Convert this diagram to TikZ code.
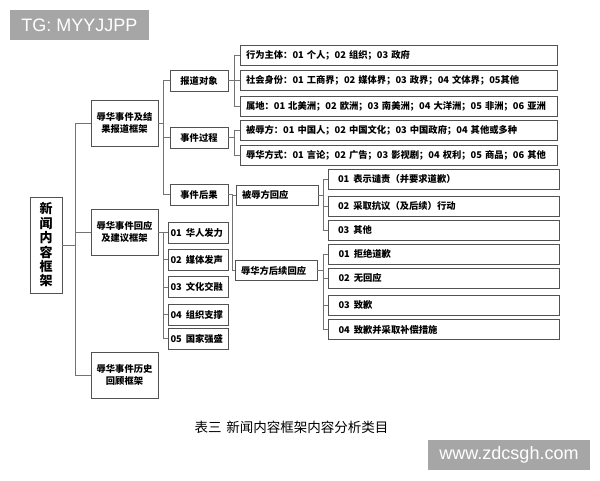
\documentclass[tikz,border=0pt]{standalone}
\usepackage{fontspec}
\setmainfont{Noto Sans CJK SC}
\newfontfamily\latinsans{Liberation Sans}
\begin{document}
\begin{tikzpicture}[x=1pt,y=-1pt,
  box/.style={draw=black!68, line width=0.85pt, fill=white, inner sep=0pt,
    font=\fontsize{9.3}{12}\selectfont\bfseries},
  rootbox/.style={box, minimum width=32pt, minimum height=96pt, align=center,
    font=\fontsize{13}{14.4}\selectfont\bfseries},
  lonebox/.style={box, minimum width=67pt, minimum height=46pt, align=center},
  ltwobox/.style={box, minimum width=58pt, minimum height=21pt},
  suggbox/.style={box, text width=55pt, inner xsep=2.5pt, align=left, minimum height=21pt},
  attrbox/.style={box, text width=305pt, inner xsep=6pt, align=left, minimum height=20pt},
  respbox/.style={box, text width=70pt, inner xsep=6pt, align=left, minimum height=20pt},
  leafbox/.style={box, text width=211pt, inner xsep=10pt, align=left, minimum height=20pt},
  wire/.style={draw=black!55, line width=0.75pt},
  markbox/.style={fill=black!35, text=white, inner sep=0pt, font=\latinsans\fontsize{18}{20}\selectfont}
]
\useasboundingbox (0,0) rectangle (600,480);
\fill[white] (0,0) rectangle (600,480);

% watermarks
\node[markbox, minimum width=139pt, minimum height=30pt] (wm1) at (79.5,25) {TG: MYYJJPP\hspace{12pt}};
\node[markbox, minimum width=162pt, minimum height=30pt] (wm2) at (509,455) {www.zdcsgh.com};

% caption
\node[font=\fontsize{13.5}{15}\selectfont] (cap) at (291.5,427) {表三\hspace{5pt}新闻内容框架内容分析类目};

% bus coordinates
\coordinate (bus0) at (75,0);
\coordinate (busA) at (163,0);
\coordinate (busB) at (163,0);
\coordinate (busP) at (234,0);
\coordinate (busE) at (232,0);
\coordinate (busR) at (323,0);

% nodes
\node[rootbox] (root) at (46,245) {新\\闻\\内\\容\\框\\架};
\node[lonebox] (A) at (124.5,123) {辱华事件及结\\果报道框架};
\node[lonebox] (B) at (124.5,232) {辱华事件回应\\及建议框架};
\node[lonebox] (C) at (124.5,375) {辱华事件历史\\回顾框架};

\node[ltwobox] (p1) at (199,80.5) {报道对象};
\node[ltwobox] (p2) at (199,137.5) {事件过程};
\node[ltwobox] (p3) at (199,194.5) {事件后果};

\node[suggbox] (s1) at (198,232.5) {01\hspace{4pt}华人发力};
\node[suggbox] (s2) at (198,259.5) {02\hspace{4pt}媒体发声};
\node[suggbox] (s3) at (198,287) {03\hspace{4pt}文化交融};
\node[suggbox] (s4) at (198,314.5) {04\hspace{4pt}组织支撑};
\node[suggbox] (s5) at (198,338.5) {05\hspace{4pt}国家强盛};

\node[attrbox] (t1) at (398.5,55) {行为主体：01\hspace{3pt}个人；02\hspace{3pt}组织；03\hspace{3pt}政府};
\node[attrbox] (t2) at (398.5,80.5) {社会身份：01\hspace{3pt}工商界；02\hspace{3pt}媒体界；03\hspace{3pt}政界；04\hspace{3pt}文体界；05其他};
\node[attrbox] (t3) at (398.5,106.5) {属地：01\hspace{3pt}北美洲；02\hspace{3pt}欧洲；03\hspace{3pt}南美洲；04\hspace{3pt}大洋洲；05\hspace{3pt}非洲；06\hspace{3pt}亚洲};
\node[attrbox] (t4) at (398.5,130.5) {被辱方：01\hspace{3pt}中国人；02\hspace{3pt}中国文化；03\hspace{3pt}中国政府；04\hspace{3pt}其他或多种};
\node[attrbox] (t5) at (398.5,155.5) {辱华方式：01\hspace{3pt}言论；02\hspace{3pt}广告；03\hspace{3pt}影视剧；04\hspace{3pt}权利；05\hspace{3pt}商品；06\hspace{3pt}其他};

\node[respbox] (r1) at (277,195) {被辱方回应};
\node[respbox] (r2) at (276,270.5) {辱华方后续回应};

\node[leafbox] (v1) at (443.5,179) {01\hspace{4pt}表示谴责（并要求道歉）};
\node[leafbox] (v2) at (443.5,206) {02\hspace{4pt}采取抗议（及后续）行动};
\node[leafbox] (v3) at (443.5,230) {03\hspace{4pt}其他};

\node[leafbox] (u1) at (444,254) {01\hspace{4pt}拒绝道歉};
\node[leafbox] (u2) at (444,278) {02\hspace{4pt}无回应};
\node[leafbox] (u3) at (444,305) {03\hspace{4pt}致歉};
\node[leafbox] (u4) at (444,329.5) {04\hspace{4pt}致歉并采取补偿措施};

% connectors
\foreach \c in {A,B,C} \draw[wire] (root.east) -- (root.east -| bus0) |- (\c.west);
\foreach \c in {p1,p2,p3} \draw[wire] (A.east) -- (A.east -| busA) |- (\c.west);
\foreach \c in {s1,s2,s3,s4,s5} \draw[wire] (B.east) -- (B.east -| busB) |- (\c.west);
\foreach \c in {t1,t2,t3} \draw[wire] (p1.east) -- (p1.east -| busP) |- (\c.west);
\foreach \c in {t4,t5} \draw[wire] (p2.east) -- (p2.east -| busP) |- (\c.west);
\foreach \c in {r1,r2} \draw[wire] (p3.east) -- (p3.east -| busE) |- (\c.west);
\foreach \c in {v1,v2,v3} \draw[wire] (r1.east) -- (r1.east -| busR) |- (\c.west);
\foreach \c in {u1,u2,u3,u4} \draw[wire] (r2.east) -- (r2.east -| busR) |- (\c.west);
\end{tikzpicture}
\end{document}
